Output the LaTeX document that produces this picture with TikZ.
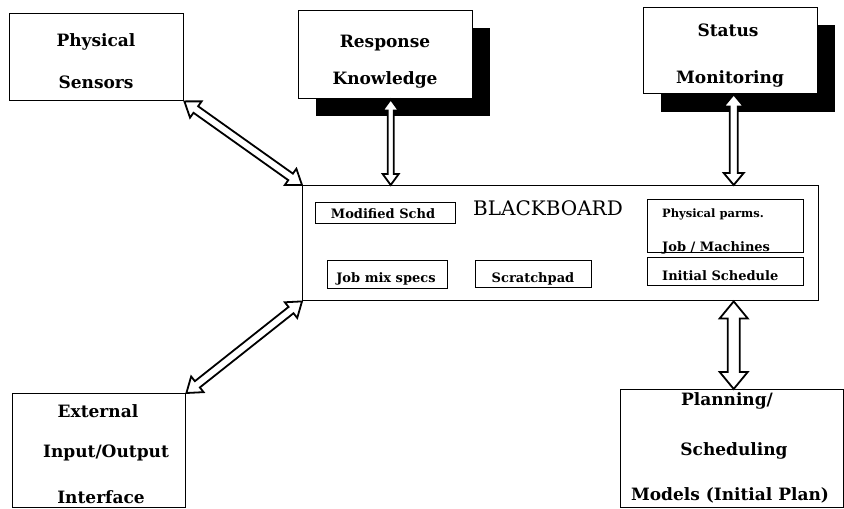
\documentclass[tikz,border=0pt]{standalone}
\usepackage{fontspec}
\setmainfont{DejaVu Serif}
\usetikzlibrary{calc}

% Hollow double-headed block arrow from #1 to #2:
% #3 half shaft width, #4 half head width, #5 head length
\newcommand{\dblarrow}[5]{%
  \path ($(#1)!#5!(#2)$) coordinate (hA) ($(#2)!#5!(#1)$) coordinate (hB);
  \draw[arrowline] (#1) -- ($(hA)!#4!90:(#2)$) -- ($(hA)!#3!90:(#2)$)
    -- ($(hB)!#3!-90:(#1)$) -- ($(hB)!#4!-90:(#1)$) -- (#2)
    -- ($(hB)!#4!90:(#1)$) -- ($(hB)!#3!90:(#1)$)
    -- ($(hA)!#3!-90:(#2)$) -- ($(hA)!#4!-90:(#2)$) -- cycle;}

\begin{document}
\begin{tikzpicture}[x=1pt,y=-1pt,
  box/.style={draw, line width=1.4pt, fill=white, inner sep=0pt, anchor=north west},
  shadowfill/.style={fill=black},
  lbl/.style={font=\bfseries\fontsize{17}{17}\selectfont, anchor=base, inner sep=0pt},
  small/.style={font=\bfseries\fontsize{13}{13}\selectfont, anchor=base, inner sep=0pt},
  smallw/.style={small, anchor=base west},
  title/.style={font=\fontsize{20}{20}\selectfont, anchor=base, inner sep=0pt},
  arrowline/.style={draw, line width=1.8pt, fill=white, line join=miter}]
\useasboundingbox (0,0) rectangle (844,509);

% outer boxes
\node[box, minimum width=174pt, minimum height=87pt] (ps) at (9,13) {};
\fill[shadowfill] (316,28) rectangle (490,116);
\node[box, minimum width=174pt, minimum height=88pt] (rk) at (298,10) {};
\fill[shadowfill] (661,25) rectangle (835,112);
\node[box, minimum width=174pt, minimum height=86pt] (sm) at (643,7) {};
\node[box, minimum width=516pt, minimum height=115pt] (bb) at (302,185) {};
\node[box, minimum width=173pt, minimum height=114pt] (ext) at (12,393) {};
\node[box, minimum width=223pt, minimum height=118pt] (pl) at (620,389) {};

% compartments of the blackboard
\node[box, minimum width=140pt, minimum height=21pt] (ms) at (315,202) {};
\node[box, minimum width=120pt, minimum height=28pt] (jm) at (327,260) {};
\node[box, minimum width=116pt, minimum height=27pt] (sp) at (475,260) {};
\node[box, minimum width=156pt, minimum height=53pt] (pp) at (647,199) {};
\node[box, minimum width=156pt, minimum height=28pt] (is) at (647,257) {};

% labels
\node[lbl] (ps1) at (96,46) {Physical};
\node[lbl] (ps2) at (96,88) {Sensors};
\node[lbl] (rk1) at (385,47) {Response};
\node[lbl] (rk2) at (385,84) {Knowledge};
\node[lbl] (sm1) at (728,36) {Status};
\node[lbl] (sm2) at (730,83) {Monitoring};
\node[title] (bbt) at (548,215) {BLACKBOARD};
\node[small] (mst) at (383,218) {Modified Schd};
\node[small] (jmt) at (386,282) {Job mix specs};
\node[small] (spt) at (533,282) {Scratchpad};
\node[smallw, font=\bfseries\fontsize{11.5}{11.5}\selectfont] (pp1) at (662,217) {Physical parms.};
\node[smallw] (pp2) at (662,251) {Job / Machines};
\node[smallw] (ist) at (662,280) {Initial Schedule};
\node[lbl] (ext1) at (98,417) {External};
\node[lbl] (ext2) at (106,457) {Input/Output};
\node[lbl] (ext3) at (101,503) {Interface};
\node[lbl] (pl1) at (727,405) {Planning/};
\node[lbl] (pl2) at (734,455) {Scheduling};
\node[lbl] (pl3) at (730,500) {Models (Initial Plan)};

% connector end points
\coordinate (rkA) at ($(rk.south)+(5,0)$);
\coordinate (rkB) at (rkA |- bb.north);
\coordinate (smA) at ($(sm.south)+(3,0)$);
\coordinate (smB) at (smA |- bb.north);
\coordinate (plA) at ($(pl.north)+(1.5,0)$);
\coordinate (plB) at (plA |- bb.south);

% connectors
\dblarrow{ps.south east}{bb.north west}{4pt}{10pt}{14pt}
\dblarrow{ext.north east}{bb.south west}{4pt}{10pt}{14pt}
\dblarrow{rkA}{rkB}{3pt}{8pt}{11pt}
\dblarrow{smA}{smB}{4pt}{10pt}{12pt}
\dblarrow{plB}{plA}{6pt}{14pt}{17pt}
\end{tikzpicture}
\end{document}
